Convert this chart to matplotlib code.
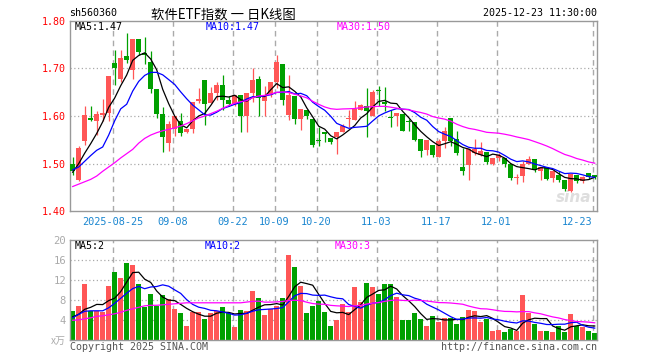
import numpy as np
import pandas as pd
import matplotlib
matplotlib.use("Agg")
import matplotlib.pyplot as plt

# ---------------- data ----------------
opens = [1.500, 1.465, 1.547, 1.595, 1.590, 1.603, 1.606, 1.711, 1.678, 1.726,
         1.697, 1.761, 1.732, 1.714, 1.656, 1.604, 1.544, 1.573, 1.590, 1.566,
         1.572, 1.632, 1.676, 1.627, 1.649, 1.665, 1.634, 1.626, 1.645, 1.601,
         1.648, 1.678, 1.632, 1.644, 1.672, 1.709, 1.603, 1.642, 1.594, 1.613,
         1.594, 1.549, 1.566, 1.553, 1.556, 1.567, 1.593, 1.592, 1.613, 1.622,
         1.601, 1.655, 1.630, 1.597, 1.601, 1.604, 1.590, 1.588, 1.551, 1.528,
         1.539, 1.515, 1.547, 1.596, 1.551, 1.492, 1.497, 1.523, 1.519, 1.524,
         1.499, 1.511, 1.511, 1.500, 1.469, 1.474, 1.500, 1.509, 1.485, 1.492,
         1.469, 1.476, 1.465, 1.443, 1.476, 1.464, 1.481, 1.476]
highs = [1.514, 1.537, 1.620, 1.620, 1.610, 1.636, 1.684, 1.739, 1.738, 1.775,
         1.761, 1.761, 1.766, 1.736, 1.656, 1.619, 1.589, 1.600, 1.606, 1.573,
         1.629, 1.658, 1.676, 1.660, 1.672, 1.686, 1.641, 1.645, 1.645, 1.649,
         1.700, 1.684, 1.662, 1.672, 1.729, 1.709, 1.685, 1.642, 1.613, 1.613,
         1.594, 1.576, 1.567, 1.553, 1.566, 1.583, 1.612, 1.632, 1.626, 1.658,
         1.655, 1.663, 1.660, 1.613, 1.606, 1.604, 1.593, 1.588, 1.551, 1.549,
         1.539, 1.551, 1.576, 1.596, 1.568, 1.532, 1.533, 1.551, 1.545, 1.524,
         1.511, 1.523, 1.511, 1.500, 1.478, 1.506, 1.516, 1.509, 1.492, 1.493,
         1.485, 1.484, 1.465, 1.479, 1.476, 1.474, 1.481, 1.477]
lows = [1.476, 1.463, 1.539, 1.589, 1.560, 1.589, 1.589, 1.665, 1.671, 1.712,
        1.678, 1.729, 1.710, 1.649, 1.595, 1.524, 1.526, 1.559, 1.559, 1.565,
        1.565, 1.627, 1.582, 1.627, 1.634, 1.613, 1.620, 1.620, 1.566, 1.566,
        1.630, 1.601, 1.601, 1.640, 1.658, 1.624, 1.592, 1.583, 1.570, 1.594,
        1.535, 1.537, 1.545, 1.542, 1.521, 1.566, 1.576, 1.592, 1.613, 1.556,
        1.600, 1.622, 1.611, 1.577, 1.578, 1.569, 1.568, 1.548, 1.513, 1.518,
        1.514, 1.514, 1.532, 1.537, 1.518, 1.476, 1.466, 1.519, 1.516, 1.499,
        1.497, 1.506, 1.493, 1.465, 1.457, 1.462, 1.500, 1.482, 1.466, 1.465,
        1.462, 1.462, 1.443, 1.440, 1.459, 1.460, 1.467, 1.468]
closes = [1.485, 1.532, 1.603, 1.592, 1.605, 1.607, 1.684, 1.701, 1.721, 1.717,
          1.761, 1.735, 1.729, 1.656, 1.604, 1.556, 1.584, 1.599, 1.565, 1.572,
          1.629, 1.635, 1.626, 1.648, 1.665, 1.634, 1.626, 1.645, 1.601, 1.649,
          1.676, 1.637, 1.641, 1.672, 1.714, 1.634, 1.645, 1.594, 1.614, 1.599,
          1.539, 1.547, 1.563, 1.545, 1.566, 1.580, 1.595, 1.614, 1.624, 1.611,
          1.651, 1.653, 1.625, 1.595, 1.606, 1.569, 1.588, 1.550, 1.526, 1.549,
          1.518, 1.547, 1.569, 1.547, 1.522, 1.485, 1.530, 1.530, 1.526, 1.503,
          1.511, 1.519, 1.499, 1.469, 1.471, 1.500, 1.509, 1.486, 1.492, 1.467,
          1.485, 1.465, 1.447, 1.479, 1.464, 1.471, 1.472, 1.471]
volumes = [5.9, 6.9, 11.3, 5.9, 5.9, 5.7, 10.9, 13.7, 12.5, 15.5,
           15.1, 11.3, 6.7, 9.3, 6.9, 9.0, 8.2, 6.3, 5.5, 2.9,
           5.7, 5.7, 4.3, 5.5, 5.9, 6.7, 5.5, 2.7, 6.1, 5.9,
           9.9, 8.5, 5.1, 6.3, 6.9, 8.5, 17.1, 14.7, 10.9, 5.5,
           6.9, 7.9, 5.7, 2.9, 4.1, 7.3, 5.7, 10.7, 7.7, 11.5,
           10.7, 9.3, 11.3, 11.3, 8.7, 4.1, 4.1, 5.5, 4.3, 2.9,
           4.9, 3.7, 4.5, 4.5, 3.3, 4.7, 6.1, 5.9, 3.7, 4.3,
           1.9, 2.1, 1.7, 2.3, 1.9, 9.1, 5.5, 3.3, 1.9, 1.9,
           1.7, 2.9, 1.7, 5.3, 2.9, 2.7, 1.9, 1.5]

# moving-average values at the start of the window (history before the first bar)
ma5_head = [1.482, 1.500, 1.522, 1.542]
ma10_head = [1.487, 1.493, 1.505, 1.517, 1.528, 1.535, 1.560, 1.590, 1.615]
ma30_head = [1.452, 1.457, 1.462, 1.467, 1.474, 1.484, 1.493, 1.502, 1.512, 1.521,
             1.530, 1.543, 1.553, 1.560, 1.565, 1.569, 1.572, 1.575, 1.579, 1.584,
             1.590, 1.596, 1.600, 1.605, 1.610, 1.616, 1.622, 1.627, 1.630]
vma5_head = [4.7, 5.2, 6.2, 6.6]
vma10_head = [4.5, 5.2, 5.8, 5.9, 5.9, 5.9, 6.5, 7.4, 8.4]
vma30_head = [4.0, 4.1, 4.3, 4.5, 4.8, 4.9, 5.1, 5.3, 5.6, 6.0,
              6.3, 6.6, 6.9, 7.0, 7.0, 7.1, 7.2, 7.3, 7.4, 7.5,
              7.5, 7.5, 7.5, 7.5, 7.5, 7.5, 7.5, 7.5, 7.5]

tick_idx = [7, 17, 27, 34, 41, 51, 61, 71, 87]
tick_labels = ['2025-08-25', '09-08', '09-22', '10-09', '10-20',
               '11-03', '11-17', '12-01', '12-23']
price_ticks = [1.40, 1.50, 1.60, 1.70, 1.80]
vol_ticks = [4, 8, 12, 16, 20]

title = '软件ETF指数 一 日K线图'
code = 'sh560360'
stamp = '2025-12-23 11:30:00'


def moving_avg(vals, n, head):
    s = pd.Series(vals, dtype=float).rolling(n).mean().to_numpy()
    s[:len(head)] = head
    return s


# ---------------- figure ----------------
W, H = 660, 360
fig = plt.figure(figsize=(W / 100, H / 100), dpi=100)
fig.patch.set_facecolor('white')


def fx(px):
    return px / W


def fy(py):
    return 1 - py / H


L, R = 70.3, 597.3
ax = fig.add_axes([fx(L), fy(211.3), (R - L) / W, (211.3 - 20.7) / H])
axv = fig.add_axes([fx(L), fy(340.3), (R - L) / W, (340.3 - 240.3) / H])

RED = '#ff5656'
GREEN = '#00a000'
GRID = '#aaaaaa'
MONO = 'DejaVu Sans Mono'

n = len(closes)
x = np.arange(n)
o = np.array(opens); c = np.array(closes); h = np.array(highs); lo = np.array(lows)
up = c >= o
cols = np.where(up, RED, GREEN)

for a in (ax, axv):
    a.set_xlim(-0.4, 87.43)
    for s in a.spines.values():
        s.set_color('#999999')
        s.set_linewidth(1.0)
    a.tick_params(length=0)
    for t in tick_idx:
        a.axvline(t - 0.35, color=GRID, lw=1.0, ls=(0, (4, 3)), zorder=0)

# price panel
ax.set_ylim(1.40, 1.80)
for yv in [1.50, 1.60, 1.70]:
    ax.axhline(yv, color=GRID, lw=0.9, ls=(0, (1, 2)), zorder=0)
ax.text(0.955, 0.035, 'sina', transform=ax.transAxes, ha='center', va='bottom',
        fontsize=11, fontstyle='italic', fontweight='bold', color='#dedede', zorder=0.5)
ax.vlines(x, lo, h, colors=cols, lw=0.9, zorder=2)
body_h = np.maximum(np.abs(c - o), 0.0015)
ax.bar(x, body_h, bottom=np.minimum(o, c), width=0.8, color=cols, linewidth=0, zorder=3)
ax.plot(x, moving_avg(closes, 5, ma5_head), color='black', lw=0.9, zorder=4)
ax.plot(x, moving_avg(closes, 10, ma10_head), color='#0000ff', lw=0.9, zorder=4)
ax.plot(x, moving_avg(closes, 30, ma30_head), color='#ff00ff', lw=0.9, zorder=4)
ax.set_yticks(price_ticks)
ax.set_yticklabels([f'{v:.2f}' for v in price_ticks], color='#ff0000',
                   fontsize=7.2, family=MONO)
ax.tick_params(axis='y', pad=3)
ax.set_xticks([t - 0.35 for t in tick_idx])
ax.set_xticklabels(tick_labels, color='#1a86d0', fontsize=7.4, family=MONO)
ax.tick_params(axis='x', pad=4)
ax.get_xticklabels()[-1].set_horizontalalignment('right')

# volume panel
axv.set_ylim(0, 20)
for yv in [4, 8, 12, 16]:
    axv.axhline(yv, color=GRID, lw=0.9, ls=(0, (1, 2)), zorder=0)
axv.bar(x, volumes, width=0.85, color=cols, linewidth=0, zorder=2)
axv.plot(x, moving_avg(volumes, 5, vma5_head), color='black', lw=0.9, zorder=4)
axv.plot(x, moving_avg(volumes, 10, vma10_head), color='#0000ff', lw=0.9, zorder=4)
axv.plot(x, moving_avg(volumes, 30, vma30_head), color='#ff00ff', lw=0.9, zorder=4)
axv.set_yticks(vol_ticks)
axv.set_yticklabels([str(v) for v in vol_ticks], color='#aaaaaa', fontsize=7.6, family=MONO)
axv.tick_params(axis='y', pad=3)
axv.set_xticks([])

# texts
fig.text(fx(69), fy(13.5), code, fontsize=7.2, family=MONO, ha='left', va='center')
fig.text(fx(223), fy(14.5), title, fontsize=9.6, ha='center', va='center',
         family=['Noto Sans CJK SC', 'DejaVu Sans'])
fig.text(fx(597), fy(13), stamp, fontsize=7.2, family=MONO, ha='right', va='center')

ma5_last = moving_avg(closes, 5, ma5_head)[-1]
ma10_last = moving_avg(closes, 10, ma10_head)[-1]
ma30_last = moving_avg(closes, 30, ma30_head)[-1]
fig.text(fx(75), fy(26.5), f'MA5:{ma5_last:.2f}', fontsize=7.2, family=MONO,
         color='black', ha='left', va='center')
fig.text(fx(206), fy(26.5), f'MA10:{ma10_last:.2f}', fontsize=7.2, family=MONO,
         color='#0000ff', ha='left', va='center')
fig.text(fx(337), fy(26.5), f'MA30:{ma30_last:.2f}', fontsize=7.2, family=MONO,
         color='#ff00ff', ha='left', va='center')

vma5_last = moving_avg(volumes, 5, vma5_head)[-1]
vma10_last = moving_avg(volumes, 10, vma10_head)[-1]
vma30_last = moving_avg(volumes, 30, vma30_head)[-1]
fig.text(fx(75), fy(246), f'MA5:{int(vma5_last)}', fontsize=7.2, family=MONO,
         color='black', ha='left', va='center')
fig.text(fx(205), fy(246), f'MA10:{int(vma10_last)}', fontsize=7.2, family=MONO,
         color='#0000ff', ha='left', va='center')
fig.text(fx(335), fy(246), f'MA30:{int(vma30_last)}', fontsize=7.2, family=MONO,
         color='#ff00ff', ha='left', va='center')

fig.text(fx(66), fy(341), 'x万', fontsize=7.2, color='#aaaaaa', ha='right', va='center',
         family=['Noto Sans CJK SC', 'DejaVu Sans'])
fig.text(fx(70), fy(346.5), 'Copyright 2025 SINA.COM', fontsize=7.2, family=MONO,
         color='#555555', ha='left', va='center')
fig.text(fx(597), fy(346.5), 'http://finance.sina.com.cn', fontsize=7.2, family=MONO,
         color='#555555', ha='right', va='center')

fig.savefig('out.png', dpi=100, facecolor='white')
